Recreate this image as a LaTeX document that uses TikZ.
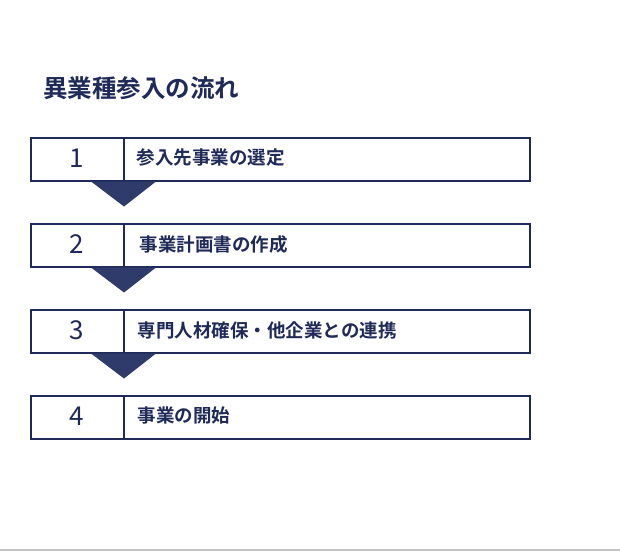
\documentclass[tikz,border=0pt]{standalone}
\usepackage{fontspec}
\setmainfont{Noto Sans CJK JP}[BoldFont={Noto Sans CJK JP Bold}]
\definecolor{navy}{HTML}{1F2A58}
\definecolor{tri}{HTML}{2F3C6B}
\definecolor{rule}{HTML}{C4C4C4}
\begin{document}
\begin{tikzpicture}[x=1pt,y=-1pt,
  stepbox/.style={draw=navy,line width=2pt,minimum width=499pt,minimum height=42.5pt,anchor=north west,inner sep=0pt},
  numtext/.style={text=navy,font=\fontsize{26}{26}\selectfont,anchor=center},
  labeltext/.style={text=navy,font=\bfseries\fontsize{18.5}{19}\selectfont,anchor=west,inner sep=0pt},
  arrowtri/.style={fill=tri,draw=none}]
\useasboundingbox (0,0) rectangle (620,551);
\fill[white] (0,0) rectangle (620,551);
\draw[rule,line width=1.5pt] (0,550) -- (620,550);
\node[text=navy,font=\bfseries\fontsize{24.5}{25}\selectfont,anchor=west,inner sep=0pt] (title) at (43,88) {異業種参入の流れ};
\foreach \i/\y/\lab/\lx in {1/137/参入先事業の選定/136.5, 2/223/事業計画書の作成/139.5, 3/309/専門人材確保・他企業との連携/137.5, 4/395/事業の開始/137.5}{
  \node[stepbox] (box\i) at (30,\y) {};
  \draw[navy,line width=2pt] (124,\y) -- (124,\y+42.5);
  \node[numtext] (num\i) at (77,\y+21.5) {\i};
  \node[labeltext] (lab\i) at (\lx,\y+21) {\lab};
}
\foreach \i in {1,2,3}{
  \fill[arrowtri] ([xshift=61pt]box\i.south west) -- ([xshift=126pt]box\i.south west) -- ([xshift=94pt,yshift=-25pt]box\i.south west) -- cycle;
}
\end{tikzpicture}
\end{document}
